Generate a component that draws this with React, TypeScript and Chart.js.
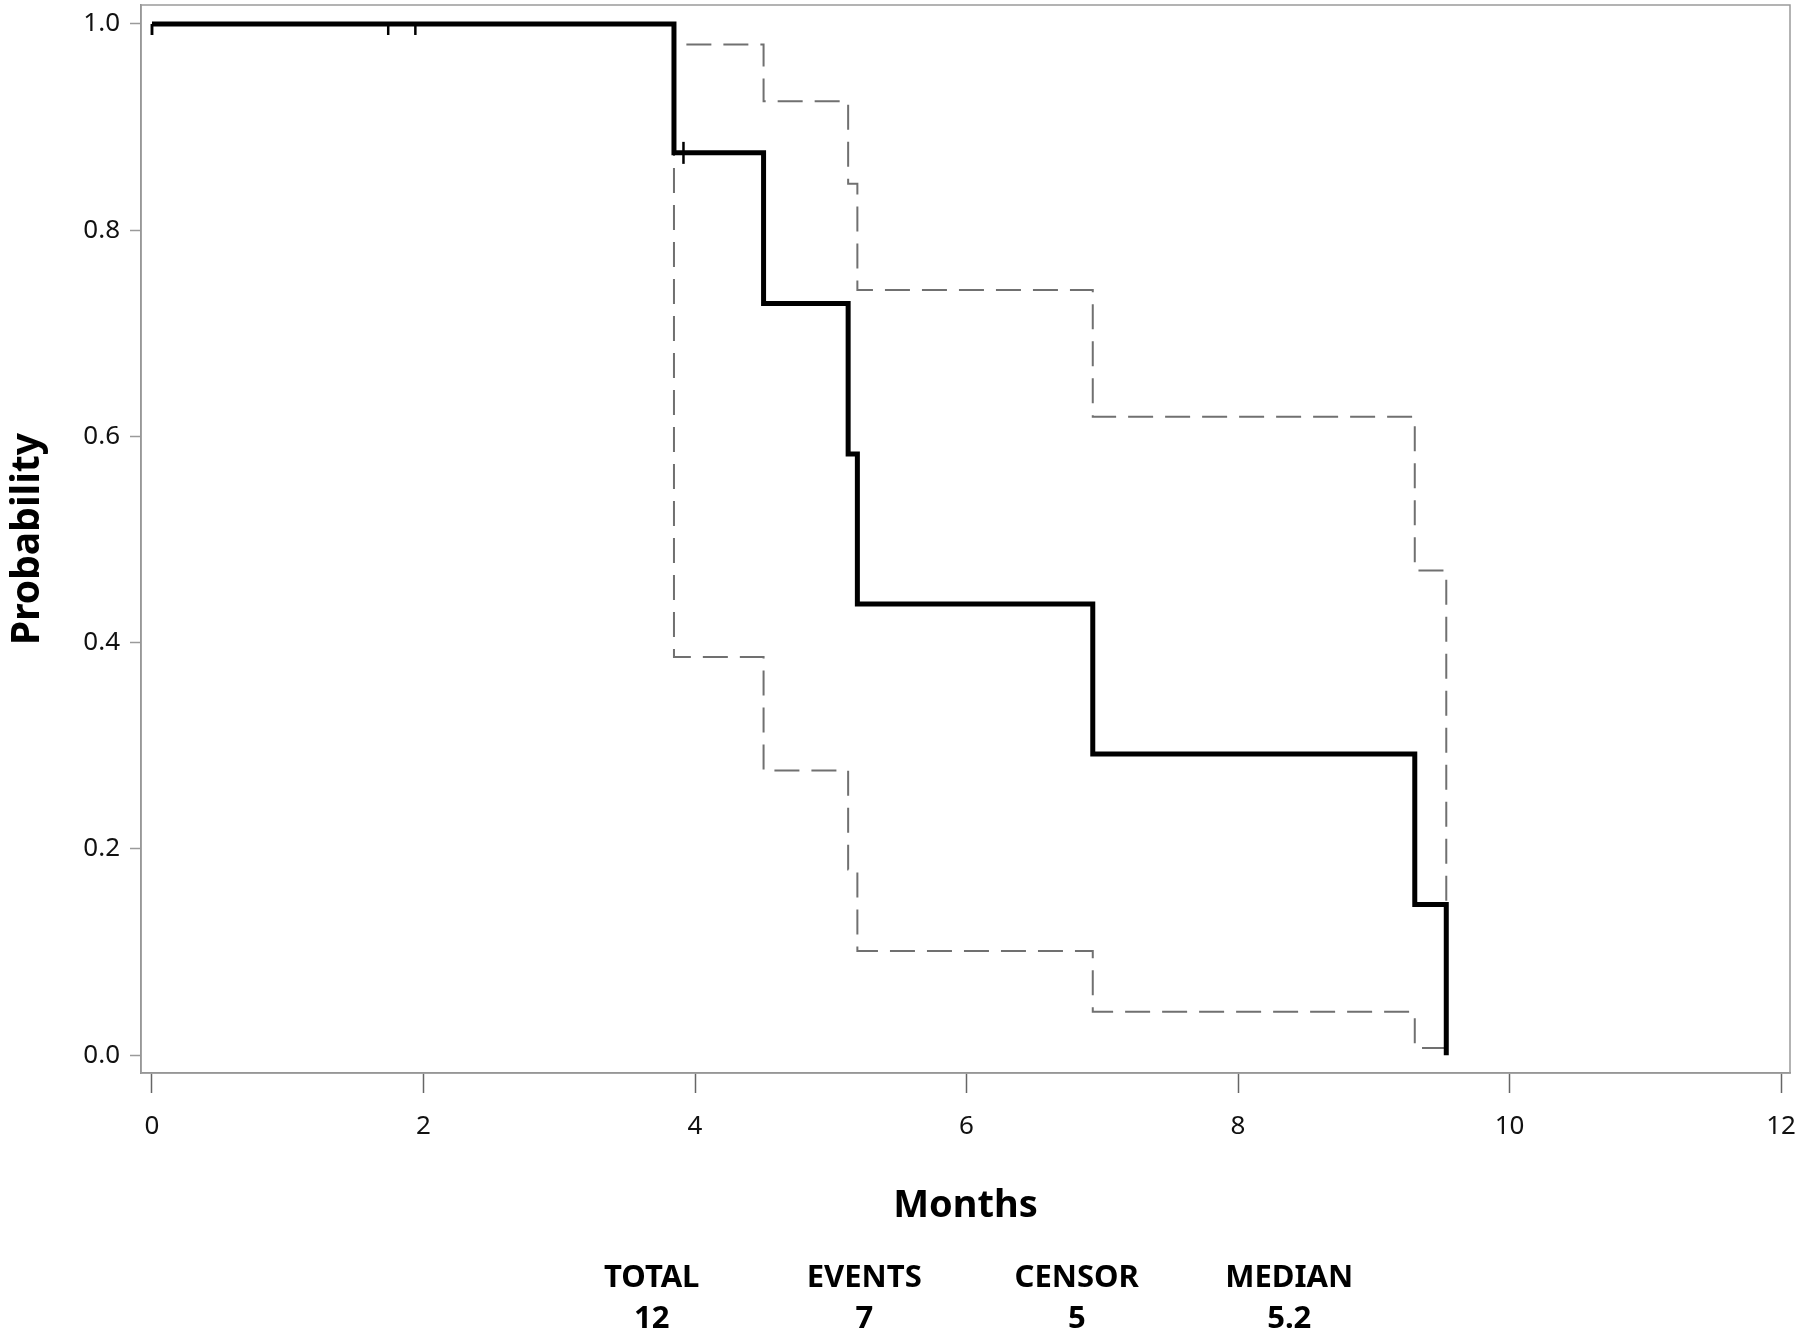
import React, { useEffect, useRef } from 'react';
import { Chart, registerables } from 'chart.js';

Chart.register(...registerables);

// ---- Data ----
const eventTimes = [0, 3.845, 4.505, 5.128, 5.196, 6.93, 9.302, 9.534];
const survival = [1, 0.875, 0.729, 0.583, 0.4375, 0.292, 0.146, 0];
const upperCL = [1, 0.98, 0.925, 0.845, 0.742, 0.619, 0.47, 0];
const lowerCL = [1, 0.386, 0.276, 0.18, 0.101, 0.042, 0.007, 0.007];
const censorTimes = [0, 0, 1.74, 1.94, 3.915];
const censorSurv = [1, 1, 1, 1, 0.875];
const xTicks = [0, 2, 4, 6, 8, 10, 12];
const yTicks = [0, 0.2, 0.4, 0.6, 0.8, 1.0];
const summaryHeaders = ['TOTAL', 'EVENTS', 'CENSOR', 'MEDIAN'];
const summaryValues = ['12', '7', '5', '5.2'];

const FONT = 'Noto Sans';

const boxPlugin = {
  id: 'plotBox',
  beforeDatasetsDraw(chart: any) {
    const { ctx, chartArea } = chart;
    ctx.save();
    ctx.strokeStyle = '#9a9a9a';
    ctx.lineWidth = 1.5;
    ctx.strokeRect(chartArea.left, chartArea.top, chartArea.right - chartArea.left, chartArea.bottom - chartArea.top);
    ctx.restore();
  },
};

const summaryPlugin = {
  id: 'summaryTable',
  afterDraw(chart: any) {
    const { ctx, chartArea } = chart;
    ctx.save();
    ctx.fillStyle = '#000';
    ctx.textAlign = 'center';
    ctx.textBaseline = 'middle';
    ctx.font = `bold 31px "${FONT}"`;
    const cx = (chartArea.left + chartArea.right) / 2 + 5;
    summaryHeaders.forEach((h, i) => {
      const x = cx + (i - 1.5) * 212.5;
      ctx.fillText(h, x, 1278);
      ctx.fillText(summaryValues[i], x, 1319);
    });
    ctx.restore();
  },
};

export default function App() {
  const canvasRef = useRef<HTMLCanvasElement | null>(null);

  useEffect(() => {
    if (!canvasRef.current) return;
    const toPts = (xs: number[], ys: number[]) => xs.map((x, i) => ({ x, y: ys[i] }));
    const chart = new Chart(canvasRef.current, {
      type: 'line',
      data: {
        datasets: [
          {
            label: 'Censored',
            data: toPts(censorTimes, censorSurv),
            showLine: false,
            pointStyle: 'line',
            rotation: 90,
            pointRadius: 11,
            pointBorderWidth: 2.5,
            pointBorderColor: '#000',
            pointBackgroundColor: '#000',
            clip: { left: false, right: false, bottom: false, top: -19 } as any,
            order: 0,
          } as any,
          {
            label: 'Survival',
            data: toPts(eventTimes, survival),
            stepped: 'before',
            borderColor: '#000',
            borderWidth: 5,
            borderJoinStyle: 'miter',
            pointRadius: 0,
            fill: false,
            order: 1,
          },
          {
            label: 'Upper',
            data: toPts(eventTimes, upperCL),
            stepped: 'before',
            borderColor: '#707070',
            borderWidth: 2,
            borderDash: [25, 12],
            pointRadius: 0,
            fill: false,
            order: 2,
          },
          {
            label: 'Lower',
            data: toPts(eventTimes, lowerCL),
            stepped: 'before',
            borderColor: '#707070',
            borderWidth: 2,
            borderDash: [25, 12],
            pointRadius: 0,
            fill: false,
            order: 3,
          },
        ],
      },
      options: {
        animation: false,
        responsive: false,
        devicePixelRatio: 1,
        layout: { autoPadding: false, padding: { left: 0, top: 5, right: 10, bottom: 0 } },
        plugins: { legend: { display: false }, tooltip: { enabled: false } },
        scales: {
          x: {
            type: 'linear',
            min: -0.081,
            max: 12.066,
            afterBuildTicks: (s: any) => {
              s.ticks = xTicks.map((v) => ({ value: v }));
            },
            afterFit: (s: any) => {
              s.height = 263;
              s.paddingLeft = 0;
              s.paddingRight = 0;
            },
            ticks: {
              font: { family: FONT, size: 26 },
              color: '#111',
              padding: 18,
              autoSkip: false,
              maxRotation: 0,
              callback: (v: any) => String(v),
            },
            grid: { display: true, drawOnChartArea: false, drawTicks: true, tickLength: 20, tickWidth: 1.5, tickColor: '#666', color: '#666' },
            border: { display: true, color: '#8c8c8c', width: 1.5 },
            title: {
              display: true,
              text: 'Months',
              color: '#000',
              font: { family: FONT, size: 38, weight: 'bold' },
              padding: { top: 0, bottom: 107 },
            },
          },
          y: {
            type: 'linear',
            min: -0.0173,
            max: 1.0184,
            afterBuildTicks: (s: any) => {
              s.ticks = yTicks.map((v) => ({ value: v }));
            },
            afterFit: (s: any) => {
              s.width = 141;
              s.paddingTop = 0;
              s.paddingBottom = 0;
            },
            ticks: {
              font: { family: FONT, size: 26, lineHeight: 0.3 },
              color: '#111',
              padding: 10,
              callback: (v: any) => Number(v).toFixed(1),
            },
            grid: { display: true, drawOnChartArea: false, drawTicks: true, tickLength: 11, tickWidth: 1.5, tickColor: '#9a9a9a', color: '#9a9a9a' },
            border: { display: true, color: '#8c8c8c', width: 1.5 },
            title: {
              display: true,
              text: 'Probability',
              color: '#000',
              font: { family: FONT, size: 39, weight: 'bold' },
              padding: { top: 4, bottom: 0 },
            },
          },
        },
      } as any,
      plugins: [boxPlugin, summaryPlugin],
    });
    return () => chart.destroy();
  }, []);

  return (
    <div style={{ position: 'absolute', left: 0, top: 0, width: 1800, height: 1336, background: '#fff' }}>
      <canvas ref={canvasRef} width={1800} height={1336} style={{ display: 'block' }} />
    </div>
  );
}
